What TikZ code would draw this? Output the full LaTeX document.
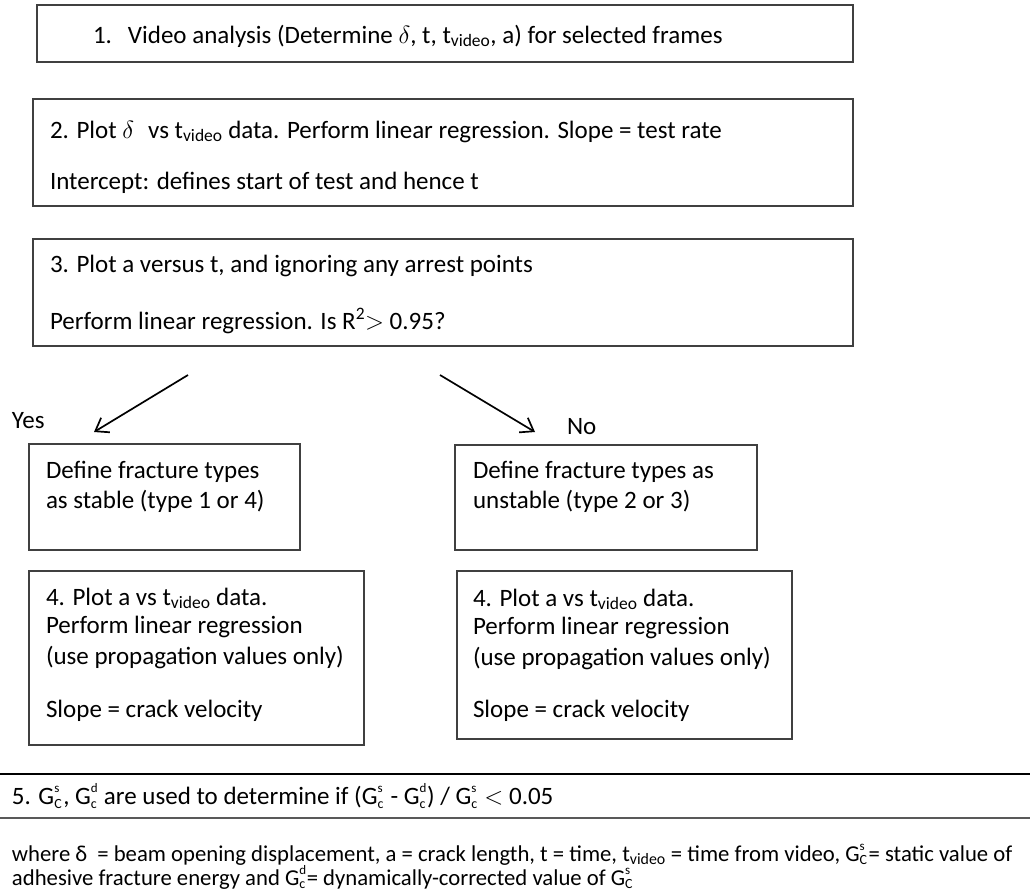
\documentclass[tikz,border=0pt]{standalone}
\usepackage{fontspec}
\setmainfont{Carlito}
\usetikzlibrary{arrows.meta}
\newcommand\Gsc[2]{G\makebox[0pt][l]{\raisebox{0.95ex}{\fontsize{13}{13}\selectfont #1}}\raisebox{-0.35ex}{\fontsize{14}{14}\selectfont #2}\hspace{1.5pt}}
\newcommand\bigdelta{{\fontsize{29}{29}\selectfont$\delta$}}
\tikzset{
  box/.style={draw=black!75, line width=1.3pt, inner sep=0pt, outer sep=0pt, anchor=north west},
  txt/.style={inner sep=0pt, outer sep=0pt, anchor=base west, font=\fontsize{25}{29}\selectfont},
  small/.style={inner sep=0pt, outer sep=0pt, anchor=base west, font=\fontsize{22.7}{26}\selectfont},
  arr/.style={line width=1.7pt, -{Straight Barb[length=12pt,width=17pt,line width=1.7pt]}},
  rule/.style={line width=1.4pt}
}
\begin{document}
\begin{tikzpicture}[x=1pt,y=-1pt]
\useasboundingbox (0,0) rectangle (1030,894);
% boxes
\node[box, minimum width=816pt, minimum height=57pt] (b1) at (37,5) {};
\node[box, minimum width=820pt, minimum height=107pt] (b2) at (33,99) {};
\node[box, minimum width=820pt, minimum height=107pt] (b3) at (33,239) {};
\node[box, minimum width=271pt, minimum height=106pt] (dy) at (29,444) {};
\node[box, minimum width=302pt, minimum height=105pt] (dn) at (455,445) {};
\node[box, minimum width=335pt, minimum height=174pt] (py) at (29,571) {};
\node[box, minimum width=335pt, minimum height=168pt] (pn) at (457,571) {};
% texts
\node[txt] (t1) at (93,43) {1.\hspace{16pt}Video analysis (Determine \bigdelta, t, t\textsubscript{video}, a) for selected frames};
\node[txt] (t2a) at (50,138) {2. Plot \bigdelta\hspace{14pt}vs t\textsubscript{video} data. Perform linear regression. Slope = test rate};
\node[txt] (t2b) at (50,189) {Intercept: defines start of test and hence t};
\node[txt] (t3a) at (50,272) {3. Plot a versus t, and ignoring any arrest points};
\node[txt] (t3b) at (50,329) {Perform linear regression. Is R\textsuperscript{2}$>$ 0.95?};
\node[txt] (yes) at (12,428) {Yes};
\node[txt] (no) at (567,434) {No};
\node[txt] (dy1) at (46,478) {Define fracture types};
\node[txt] (dy2) at (46,508) {as stable (type 1 or 4)};
\node[txt] (dn1) at (473,478) {Define fracture types as};
\node[txt] (dn2) at (473,508) {unstable (type 2 or 3)};
\node[txt] (py1) at (46,605) {4. Plot a vs t\textsubscript{video} data.};
\node[txt] (py2) at (46,633) {Perform linear regression};
\node[txt] (py3) at (46,664) {(use propagation values only)};
\node[txt] (py4) at (46,717) {Slope = crack velocity};
\node[txt] (pn1) at (473,606) {4. Plot a vs t\textsubscript{video} data.};
\node[txt] (pn2) at (473,634) {Perform linear regression};
\node[txt] (pn3) at (473,665) {(use propagation values only)};
\node[txt] (pn4) at (473,717) {Slope = crack velocity};
\node[txt] (t5) at (12,804) {5. \Gsc{s}{C}, \Gsc{d}{c} are used to determine if (\Gsc{s}{c} - \Gsc{d}{c}) / \Gsc{s}{c} $<$ 0.05};
\node[small] (f1) at (12,861) {where δ\hspace{10pt}= beam opening displacement, a = crack length, t = time, t\textsubscript{video} = time from video, \Gsc{s}{C}= static value of};
\node[small] (f2) at (12,885) {adhesive fracture energy and \Gsc{d}{c}= dynamically-corrected value of \Gsc{s}{C}};
% arrows
\coordinate (ys) at (188,375);
\coordinate (ye) at (94,432);
\coordinate (ns) at (440,375);
\coordinate (ne) at (535,432);
\draw[arr] (ys) -- (ye);
\draw[arr] (ns) -- (ne);
% rules
\coordinate (r1l) at (0,774);
\coordinate (r1r) at (1030,774);
\coordinate (r2l) at (0,818);
\coordinate (r2r) at (1030,818);
\draw[rule, black] (r1l) -- (r1r);
\draw[rule, black!65] (r2l) -- (r2r);
\end{tikzpicture}
\end{document}
